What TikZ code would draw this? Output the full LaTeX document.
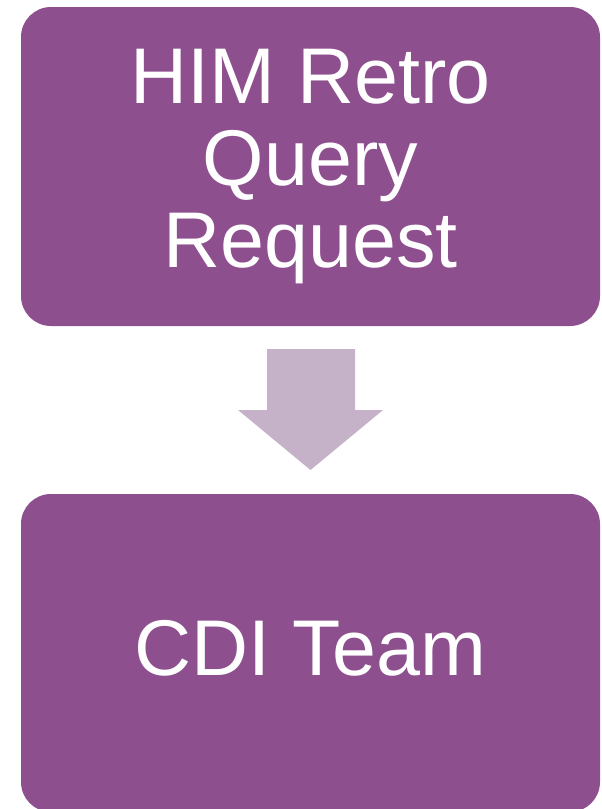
\documentclass[tikz,border=0pt]{standalone}
\usepackage{fontspec}
\setmainfont{Liberation Sans}
\definecolor{boxpurple}{RGB}{142,79,142}
\definecolor{arrowlilac}{RGB}{197,177,200}
\begin{document}
\begin{tikzpicture}[x=1pt,y=-1pt,
  stagebox/.style={fill=boxpurple, draw=none, rounded corners=30pt,
    minimum width=579pt, inner sep=0pt, text=white, align=center,
    font=\fontsize{79}{82}\selectfont},
  blockarrow/.style={fill=arrowlilac, draw=none}]
  \useasboundingbox (0,0) rectangle (602,809);

  \node[stagebox, minimum height=319pt] (query) at (310.5,166.5)
    {HIM Retro\\Query\\Request};
  \node[stagebox, minimum height=318pt, text depth=10pt] (cdi) at (310.5,653)
    {CDI Team};

  % block arrow from the request box down to the team box
  \path[blockarrow]
    (267,349) -- (355,349) -- (355,410) -- (383,410)
    -- (310.5,470) -- (238,410) -- (267,410) -- cycle;
\end{tikzpicture}
\end{document}
